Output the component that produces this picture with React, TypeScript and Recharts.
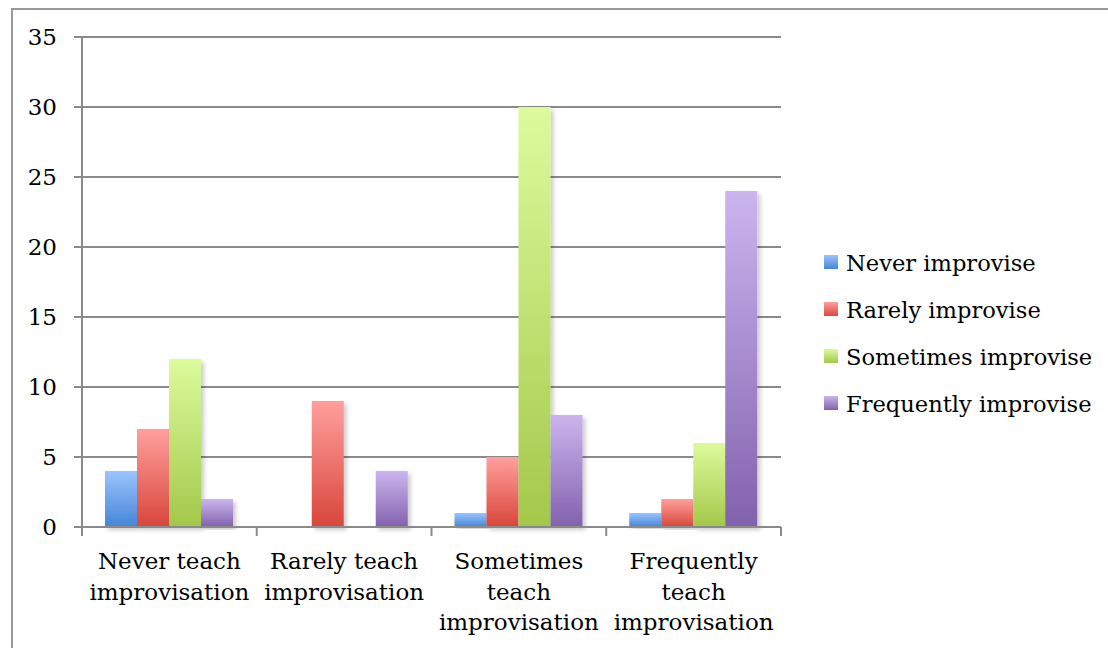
import React from "react";
import { BarChart, Bar, XAxis, YAxis, CartesianGrid, Legend } from "recharts";

const categories = [
  "Never teach\nimprovisation",
  "Rarely teach\nimprovisation",
  "Sometimes\nteach\nimprovisation",
  "Frequently\nteach\nimprovisation",
];
const neverImprovise = [4, 0, 1, 1];
const rarelyImprovise = [7, 9, 5, 2];
const sometimesImprovise = [12, 0, 30, 6];
const frequentlyImprovise = [2, 4, 8, 24];
const yTicks = [0, 5, 10, 15, 20, 25, 30, 35];

const seriesDefs = [
  { key: "never", name: "Never improvise", top: "#9cc4fd", bottom: "#4485d8", values: neverImprovise },
  { key: "rarely", name: "Rarely improvise", top: "#ff9f9c", bottom: "#d9463b", values: rarelyImprovise },
  { key: "sometimes", name: "Sometimes improvise", top: "#dcfb9c", bottom: "#a3c84a", values: sometimesImprovise },
  { key: "frequently", name: "Frequently improvise", top: "#cbb5ee", bottom: "#8261ad", values: frequentlyImprovise },
];

const data = categories.map((c, i) => {
  const row: Record<string, string | number> = { category: c };
  seriesDefs.forEach((s) => {
    row[s.key] = s.values[i];
  });
  return row;
});

const FONT = "'DejaVu Serif', serif";
const GRAY = "#8a8a8a";
const PLOT_LEFT = 82;
const PLOT_RIGHT = 781;
const STEP = (PLOT_RIGHT - PLOT_LEFT) / categories.length;

const ShadowBar = (props: any) => {
  const { x, y, width, height, fill } = props;
  if (!height || height <= 0) return null;
  return <rect x={x} y={y} width={width} height={height} fill={fill} filter="url(#barShadow)" />;
};

const CategoryTick = (props: any) => {
  const { x, y, payload, index } = props;
  const lines = String(payload.value).split("\n");
  const left = x - STEP / 2;
  const right = x + STEP / 2;
  return (
    <g>
      <line x1={left} x2={left} y1={y} y2={y + 9} stroke={GRAY} strokeWidth={2} />
      {index === categories.length - 1 && (
        <line x1={right} x2={right} y1={y} y2={y + 9} stroke={GRAY} strokeWidth={2} />
      )}
      <text textAnchor="middle" fontFamily={FONT} fontSize={23} fill="#000">
        {lines.map((l, i) => (
          <tspan key={i} x={x} y={y + 42 + i * 30.5}>
            {l}
          </tspan>
        ))}
      </text>
    </g>
  );
};

const LegendContent = () => (
  <div style={{ fontFamily: FONT, fontSize: 22.6, color: "#000" }}>
    {seriesDefs.map((s) => (
      <div key={s.key} style={{ display: "flex", alignItems: "center", height: 47, whiteSpace: "nowrap" }}>
        <div
          style={{
            width: 14,
            height: 14,
            marginRight: 8,
            background: `linear-gradient(${s.top}, ${s.bottom})`,
          }}
        />
        <span style={{ position: "relative", top: 1 }}>{s.name}</span>
      </div>
    ))}
  </div>
);

export default function App() {
  return (
    <div style={{ position: "absolute", left: 0, top: 0, width: 1108, height: 648, background: "#fff", overflow: "hidden" }}>
      <div
        style={{
          position: "absolute",
          left: 11,
          top: 8,
          width: 1200,
          height: 800,
          border: "2px solid #9a9a9a",
        }}
      />
      <div style={{ position: "absolute", left: 0, top: 0 }}>
        <BarChart
          width={1108}
          height={648}
          data={data}
          margin={{ top: 37, right: 1108 - PLOT_RIGHT, bottom: 0, left: 0 }}
          barCategoryGap={23}
          barGap={0}
        >
          <defs>
            {seriesDefs.map((s) => (
              <linearGradient key={s.key} id={`grad-${s.key}`} x1="0" y1="0" x2="0" y2="1">
                <stop offset="0%" stopColor={s.top} />
                <stop offset="100%" stopColor={s.bottom} />
              </linearGradient>
            ))}
            <filter id="barShadow" x="-20%" y="-5%" width="150%" height="115%">
              <feDropShadow dx="3" dy="3" stdDeviation="2" floodColor="#000" floodOpacity="0.2" />
            </filter>
          </defs>
          <CartesianGrid vertical={false} stroke={GRAY} strokeWidth={2} />
          <XAxis
            dataKey="category"
            height={121}
            interval={0}
            tickSize={0}
            tickMargin={0}
            tickLine={false}
            axisLine={{ stroke: GRAY, strokeWidth: 2 }}
            tick={<CategoryTick />}
          />
          <YAxis
            width={PLOT_LEFT}
            domain={[0, 35]}
            ticks={yTicks}
            interval={0}
            tickSize={8}
            tickMargin={17}
            tickLine={{ stroke: GRAY, strokeWidth: 2 }}
            axisLine={{ stroke: GRAY, strokeWidth: 2 }}
            tick={{ fontFamily: FONT, fontSize: 23, fill: "#000" }}
          />
          <Legend
            layout="vertical"
            align="center"
            verticalAlign="middle"
            content={<LegendContent />}
            wrapperStyle={{ position: "absolute", left: 824, top: 238, width: 284 }}
          />
          {seriesDefs.map((s) => (
            <Bar
              key={s.key}
              dataKey={s.key}
              name={s.name}
              fill={`url(#grad-${s.key})`}
              shape={<ShadowBar />}
              isAnimationActive={false}
            />
          ))}
        </BarChart>
      </div>
    </div>
  );
}
